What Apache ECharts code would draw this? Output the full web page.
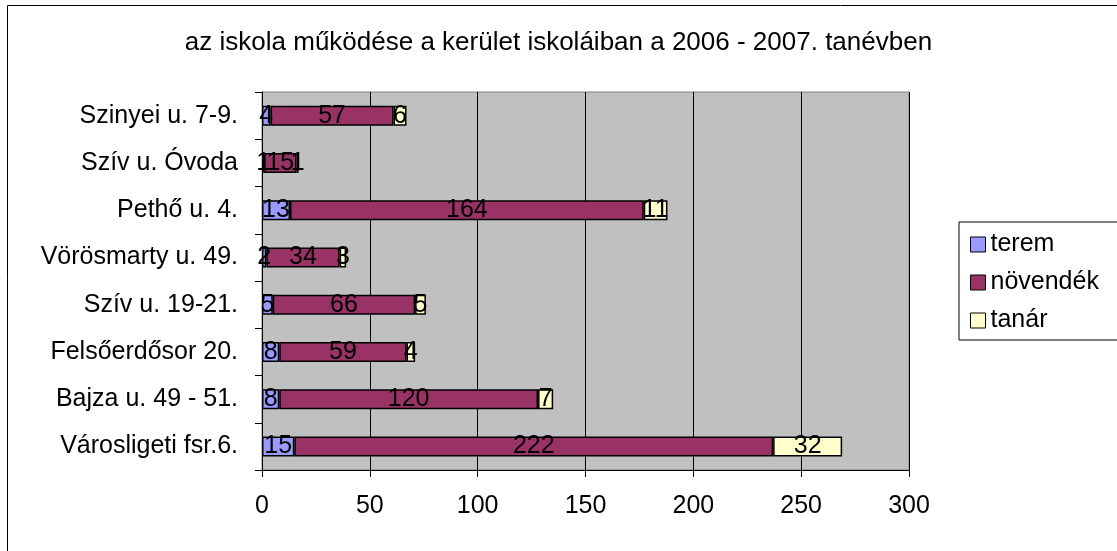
<!DOCTYPE html>
<html>
<head>
<meta charset="utf-8">
<script src="https://cdn.jsdelivr.net/npm/echarts@6/dist/echarts.min.js"></script>
<style>
  html, body { margin: 0; padding: 0; background: #fff; }
  #chart { width: 1117px; height: 551px; }
</style>
</head>
<body>
<div id="chart"></div>
<script>
// iskolák (alulról felfelé, ahogy a tengelyen állnak)
var schools = ['Városligeti fsr.6.', 'Bajza u. 49 - 51.', 'Felsőerdősor 20.', 'Szív u. 19-21.',
  'Vörösmarty u. 49.', 'Pethő u. 4.', 'Szív u. Óvoda', 'Szinyei u. 7-9.'];
var terem = [15, 8, 8, 5, 2, 13, 1, 4];
var novendek = [222, 120, 59, 66, 34, 164, 15, 57];
var tanar = [32, 7, 4, 5, 3, 11, 1, 6];
var xTicks = [0, 50, 100, 150, 200, 250, 300];

var font = 'Liberation Sans, Arial, sans-serif';
var chart = echarts.init(document.getElementById('chart'));

function mkSeries(name, data, color) {
  return {
    name: name,
    type: 'bar',
    stack: 'total',
    data: data,
    barWidth: 20,
    itemStyle: { color: color, borderColor: '#000', borderWidth: 1.5 },
    label: {
      show: true,
      position: 'inside',
      color: '#000',
      fontFamily: font,
      fontSize: 25
    }
  };
}

chart.setOption({
  animation: false,
  title: {
    text: 'az iskola működése a kerület iskoláiban a 2006 - 2007. tanévben',
    left: 'center',
    top: 25,
    textStyle: { fontFamily: font, fontSize: 26, fontWeight: 'normal', color: '#000' }
  },
  graphic: [{
    type: 'rect',
    shape: { x: 7.5, y: 5.5, width: 1200, height: 700 },
    style: { fill: null, stroke: '#000', lineWidth: 1 },
    silent: true
  }],
  legend: {
    orient: 'vertical',
    left: 959,
    top: 222,
    itemWidth: 15,
    itemHeight: 15,
    itemGap: 13,
    padding: [10, 80, 7, 11],
    borderColor: '#000',
    borderWidth: 1,
    icon: 'rect',
    itemStyle: { borderColor: '#000', borderWidth: 1 },
    textStyle: { fontFamily: font, fontSize: 25, color: '#000', padding: [0, 0, 0, 0] },
    data: ['terem', 'növendék', 'tanár']
  },
  grid: {
    left: 262, right: 208, top: 92, bottom: 81,
    show: true,
    backgroundColor: '#C0C0C0',
    borderColor: '#808080',
    borderWidth: 1
  },
  xAxis: {
    type: 'value',
    min: xTicks[0],
    max: xTicks[xTicks.length - 1],
    interval: 50,
    axisLine: { show: true, lineStyle: { color: '#000' } },
    axisTick: { show: true, length: 7, lineStyle: { color: '#000' } },
    splitLine: { show: true, lineStyle: { color: '#000', width: 1 } },
    axisLabel: { color: '#000', fontFamily: font, fontSize: 25, margin: 24 }
  },
  yAxis: {
    type: 'category',
    data: schools,
    axisLine: { show: true, lineStyle: { color: '#000' } },
    axisTick: { show: true, length: 7, lineStyle: { color: '#000' } },
    axisLabel: { color: '#000', fontFamily: font, fontSize: 25, margin: 24 }
  },
  series: [
    mkSeries('terem', terem, '#9999FF'),
    mkSeries('növendék', novendek, '#993366'),
    mkSeries('tanár', tanar, '#FFFFCC')
  ]
});
</script>
</body>
</html>
